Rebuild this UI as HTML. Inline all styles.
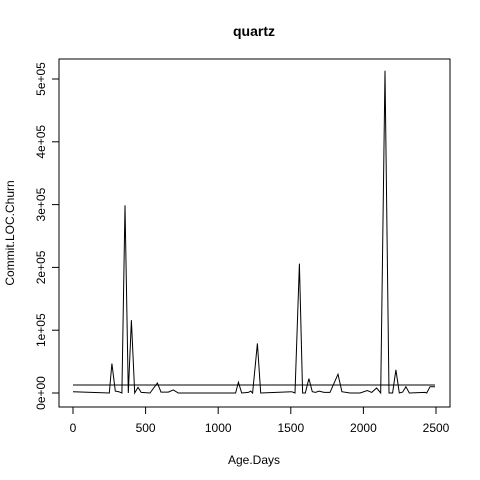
<!DOCTYPE html>
<html><head><meta charset="utf-8"><style>body{margin:0;background:#fff}svg{display:block}text{font-family:"Liberation Sans",sans-serif;fill:#000}</style></head>
<body>
<svg id="chart" width="480" height="480">
<text x="254" y="36" text-anchor="middle" font-size="14" font-weight="bold">quartz</text>
<rect x="59" y="59" width="391" height="348" fill="none" stroke="#000" stroke-width="1"/>
<text x="254" y="464" text-anchor="middle" font-size="12">Age.Days</text>
<text transform="translate(14,233) rotate(-90)" text-anchor="middle" font-size="12">Commit.LOC.Churn</text>
<g id="axes"></g>
<g id="marks"></g>
</svg>
<script>
const days=[0,250,268,291,315,337,358,381,402,425,448,470,530,581,606,657,691,725,1120,1139,1162,1208,1224,1237,1270,1293,1506,1529,1559,1581,1600,1625,1648,1671,1694,1729,1770,1825,1852,1908,1977,2027,2057,2091,2119,2149,2176,2201,2224,2247,2270,2293,2316,2424,2436,2459,2493];
const churn=[2000,0,47000,3000,2000,0,299000,0,116000,0,9000,1000,0,16000,1500,1500,5000,0,0,17000,0,1000,3000,0,79000,0,2000,0,206000,0,0,23000,2000,1000,3000,1000,1000,30000,2000,0,0,4000,1000,8000,0,513000,0,0,37000,0,1500,10000,0,1000,0,10000,10000];
const meanChurn=[12700];
const xTicks=[0,500,1000,1500,2000,2500];
const yTicks=[0,100000,200000,300000,400000,500000];
const yTickLabels=["0e+00","1e+05","2e+05","3e+05","4e+05","5e+05"];
const NS="http://www.w3.org/2000/svg";
const xs=d=>73+d*(363/2500);
const ys=v=>393-v*(314/500000);
const axes=document.getElementById('axes'),marks=document.getElementById('marks');
function mk(tag,attrs,parent){const e=document.createElementNS(NS,tag);for(const k in attrs)e.setAttribute(k,attrs[k]);parent.appendChild(e);return e;}
mk('line',{x1:xs(xTicks[0]),x2:xs(xTicks[xTicks.length-1]),y1:407,y2:407,stroke:'#000'},axes);
xTicks.forEach(t=>{
  const l=mk('line',{x1:xs(t),x2:xs(t),y1:407,y2:414,stroke:'#000'},axes);
  
  
  const tx=mk('text',{x:xs(t),y:432,'text-anchor':'middle','font-size':12},axes);
  tx.textContent=t;
  
  
});
mk('line',{x1:59,x2:59,y1:ys(yTicks[0]),y2:ys(yTicks[yTicks.length-1]),stroke:'#000'},axes);
yTicks.forEach((t,i)=>{
  const l=mk('line',{x1:52,x2:59,y1:ys(t),y2:ys(t),stroke:'#000'},axes);
  
  
  const tx=mk('text',{transform:`translate(45,${ys(t)}) rotate(-90)`,'text-anchor':'middle','font-size':12},axes);
  tx.textContent=yTickLabels[i];
  
  
});
const pts=days.map((d,i)=>xs(d).toFixed(1)+','+ys(churn[i]).toFixed(1)).join(' ');
const pl=mk('polyline',{points:pts,fill:'none',stroke:'#000','stroke-width':1},marks);


const ml=mk('line',{x1:xs(days[0]),x2:xs(days[days.length-1]),y1:ys(meanChurn[0]),y2:ys(meanChurn[0]),stroke:'#000','stroke-width':1},marks);


</script>
</body></html>
